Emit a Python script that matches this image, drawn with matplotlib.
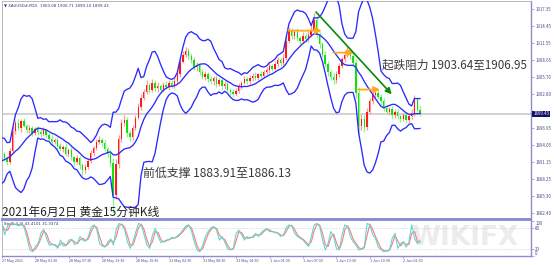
import numpy as np
import pandas as pd
import matplotlib
matplotlib.use('Agg')
import matplotlib.pyplot as plt
from matplotlib import transforms

plt.rcParams['font.family'] = ['Noto Sans CJK SC', 'DejaVu Sans']

# ---------------- data (30-minute candles, bar 0 = 27 May 19:30) ----------------
history_closes = [1888.6, 1889.8, 1888.8, 1890.4, 1891.6, 1893.0, 1893.4, 1892.4, 1891.2, 1890.6]
first_open = 1892.0
closes = [
    1892.6, 1891.8, 1891.2, 1893.0, 1896.5, 1897.8, 1897.0, 1898.2, 1897.4, 1896.6,
    1897.0, 1896.2, 1896.8, 1896.4, 1896.0, 1896.6, 1895.8, 1895.2, 1894.6, 1895.0,
    1894.0, 1893.4, 1893.8, 1892.6, 1893.2, 1892.0, 1891.2, 1891.8, 1890.6, 1889.8,
    1890.4, 1891.4, 1892.8, 1893.6, 1894.6, 1895.0, 1894.4, 1893.4, 1892.6, 1891.0,
    1885.6, 1890.8, 1895.2, 1897.8, 1898.4, 1896.2, 1895.4, 1897.0, 1898.8, 1900.6,
    1902.2, 1903.2, 1904.4, 1903.6, 1904.8, 1903.8, 1904.2, 1903.6, 1904.4, 1904.0,
    1904.8, 1904.2, 1905.0, 1906.2, 1908.4, 1909.6, 1910.2, 1909.4, 1908.6, 1907.4,
    1907.8, 1906.6, 1905.8, 1906.2, 1905.4, 1905.0, 1905.6, 1904.6, 1905.2, 1904.2,
    1904.6, 1903.6, 1903.2, 1902.8, 1903.4, 1904.2, 1904.8, 1905.4, 1905.0, 1905.6,
    1906.0, 1905.6, 1906.2, 1906.0, 1906.6, 1907.0, 1907.6, 1907.2, 1908.0, 1908.6,
    1908.2, 1909.0, 1912.0, 1913.6, 1912.8, 1913.4, 1912.4, 1912.0, 1912.8, 1912.2,
    1913.0, 1913.8, 1915.6, 1913.0, 1911.4, 1909.6, 1908.0, 1906.6, 1905.8, 1905.2,
    1906.2, 1907.6, 1908.8, 1909.6, 1910.2, 1909.4, 1908.2, 1903.0, 1897.4, 1898.6,
    1897.2, 1899.8, 1901.6, 1902.6, 1903.0, 1902.4, 1901.6, 1900.4, 1899.8, 1900.2,
    1899.2, 1899.8, 1899.0, 1898.6, 1899.2, 1898.4, 1899.0, 1899.6, 1901.8, 1900.08,
    1899.43]
upper_wicks = [
    0.4, 0.3, 0.5, 0.6, 0.8, 0.5, 0.7, 0.4, 0.6, 0.3,
    0.5, 0.4, 0.3, 0.6, 0.4, 0.5, 0.3, 0.4, 0.6, 0.3,
    0.5, 0.4, 0.3, 0.6, 0.4, 0.5, 0.3, 0.6, 0.4, 0.5,
    0.4, 0.3, 0.5, 0.4, 0.6, 0.7, 0.3, 0.5, 0.4, 0.6,
    0.8, 0.9, 0.6, 0.7, 0.9, 0.5, 0.4, 0.6, 0.5, 0.7,
    0.6, 0.5, 0.8, 0.4, 0.6, 0.5, 0.7, 0.4, 0.5, 0.6,
    0.4, 0.5, 0.6, 0.7, 0.8, 0.6, 0.7, 0.5, 0.4, 0.6,
    0.5, 0.4, 0.6, 0.5, 0.4, 0.6, 0.3, 0.5, 0.4, 0.6,
    0.4, 0.5, 0.3, 0.5, 0.4, 0.6, 0.3, 0.5, 0.4, 0.5,
    0.4, 0.6, 0.3, 0.5, 0.4, 0.5, 0.6, 0.4, 0.5, 0.6,
    0.4, 0.7, 1.0, 0.8, 0.6, 0.5, 0.7, 0.4, 0.6, 0.5,
    0.6, 0.7, 1.2, 0.6, 0.5, 0.4, 0.6, 0.5, 0.4, 0.6,
    0.5, 0.6, 0.4, 0.7, 0.8, 0.5, 0.6, 0.7, 1.0, 0.8,
    0.6, 0.7, 0.5, 0.8, 0.6, 0.5, 0.4, 0.6, 0.5, 0.4,
    0.5, 0.4, 0.5, 0.3, 0.4, 0.5, 0.3, 0.6, 0.9, 0.5,
    0.63]
lower_wicks = [
    0.3, 0.5, 0.6, 0.4, 0.3, 0.5, 0.4, 0.6, 0.3, 0.5,
    0.4, 0.6, 0.3, 0.5, 0.6, 0.4, 0.5, 0.3, 0.5, 0.4,
    0.6, 0.4, 0.5, 0.3, 0.6, 0.5, 0.7, 0.4, 0.6, 0.8,
    0.5, 0.4, 0.3, 0.5, 0.4, 0.3, 0.5, 0.4, 0.6, 0.7,
    3.2, 0.8, 0.6, 0.5, 0.4, 0.7, 0.6, 0.5, 0.4, 0.3,
    0.5, 0.4, 0.3, 0.6, 0.4, 0.5, 0.6, 0.4, 0.5, 0.3,
    0.5, 0.4, 0.3, 0.5, 0.4, 0.3, 0.5, 0.6, 0.4, 0.5,
    0.6, 0.5, 0.4, 0.6, 0.5, 0.4, 0.6, 0.5, 0.4, 0.6,
    0.5, 0.4, 0.6, 0.5, 0.3, 0.4, 0.5, 0.3, 0.5, 0.4,
    0.5, 0.3, 0.4, 0.5, 0.3, 0.4, 0.5, 0.4, 0.3, 0.5,
    0.5, 0.4, 0.3, 0.4, 0.6, 0.5, 0.4, 0.6, 0.5, 0.4,
    0.5, 0.4, 0.5, 0.6, 0.7, 0.5, 0.6, 0.7, 0.5, 0.6,
    0.4, 0.5, 0.3, 0.4, 0.5, 0.6, 0.5, 0.8, 1.6, 0.7,
    0.8, 0.5, 0.4, 0.5, 0.4, 0.5, 0.6, 0.5, 0.4, 0.5,
    0.6, 0.4, 0.5, 0.6, 0.4, 0.5, 0.6, 0.4, 0.5, 0.4,
    0.33]
stoch_k = [
    88, 60, 85, 92, 88, 90, 85, 92, 80, 50,
    17, 12, 27, 36, 65, 75, 50, 30, 34, 30,
    22, 45, 28, 30, 45, 47, 33, 36, 55, 45,
    42, 55, 82, 88, 75, 35, 28, 25, 40, 48,
    31, 78, 92, 88, 75, 40, 22, 40, 68, 92,
    88, 60, 31, 22, 60, 78, 55, 38, 41, 45,
    47, 53, 50, 58, 64, 75, 85, 88, 70, 40,
    17, 12, 30, 55, 70, 80, 83, 73, 45, 55,
    38, 20, 17, 22, 64, 73, 59, 45, 55, 50,
    55, 64, 55, 66, 73, 78, 69, 69, 66, 64,
    55, 60, 80, 88, 85, 64, 55, 50, 45, 35,
    27, 55, 88, 92, 83, 45, 17, 36, 69, 55,
    20, 17, 60, 88, 83, 55, 40, 31, 17, 20,
    27, 92, 88, 60, 50, 25, 18, 12, 15, 17,
    50, 64, 22, 35, 41, 25, 40, 88, 50, 35,
    43.41]
price_ticks = [1917.35, 1914.45, 1911.55, 1908.65, 1905.70, 1902.80, 1899.90,
               1896.95, 1894.05, 1891.15, 1888.25, 1885.30, 1882.40]
time_labels = ['27 May 2021', '28 May 01:30', '28 May 07:30', '28 May 13:30',
               '28 May 19:30', '31 May 02:30', '31 May 08:30', '31 May 14:30',
               '1 Jun 01:30', '1 Jun 07:30', '1 Jun 13:30', '1 Jun 19:30', '2 Jun 02:30']
bars_per_label = 12
last_price = 1899.43
bb_period = 10
bb_dev = 2.8
stoch_signal_period = 2

# ---------------- derived ----------------
closes_a = np.array(closes)
opens_a = np.array([first_open] + closes[:-1])
highs_a = np.maximum(opens_a, closes_a) + np.array(upper_wicks)
lows_a = np.minimum(opens_a, closes_a) - np.array(lower_wicks)
idx = np.arange(len(closes))

s = pd.Series(history_closes + closes)
mid = s.rolling(bb_period).mean().values[len(history_closes):]
sd = s.rolling(bb_period).std(ddof=0).values[len(history_closes):]
upper = mid + bb_dev * sd
lower = mid - bb_dev * sd

k = pd.Series(stoch_k)
d = k.rolling(stoch_signal_period, min_periods=1).mean().values

# ---------------- figure ----------------
W, H = 554, 265
fig = plt.figure(figsize=(W / 100, H / 100), dpi=100)
fig.patch.set_facecolor('white')

px_per_bar = 2.79
x0_px = 1.5
left_px, right_px = 2, 531
def px2bar(px):
    return (px - x0_px) / px_per_bar

ax = fig.add_axes([left_px / W, (H - 219) / H, (right_px - left_px) / W, 218 / H])
axs = fig.add_axes([left_px / W, (H - 256) / H, (right_px - left_px) / W, 36 / H])

y_top = 1917.35 + (9.3 - 1) / 5.84
y_bot = 1882.40 - (219 - 213.3) / 5.84
ax.set_ylim(y_bot, y_top)
ax.set_xlim(px2bar(left_px), px2bar(right_px))
axs.set_xlim(px2bar(left_px), px2bar(right_px))
axs.set_ylim(0.3, 101.7)

frame_c = '#8c8cd0'
for a in (ax, axs):
    for sp in a.spines.values():
        sp.set_color('#b8b8b8')
        sp.set_linewidth(0.7)
    a.spines['right'].set_color(frame_c)
    a.spines['right'].set_linewidth(1.0)
ax.spines['bottom'].set_color(frame_c)
ax.spines['bottom'].set_linewidth(1.4)
axs.spines['top'].set_color(frame_c)
axs.spines['top'].set_linewidth(1.4)
axs.spines['bottom'].set_color(frame_c)
axs.spines['bottom'].set_linewidth(1.0)

# current price line
ax.axhline(last_price, color='#cfcfcf', lw=1.3, zorder=1)

# candles
up = closes_a >= opens_a
wick_cols = np.where(up, '#ff9a9a', '#8cf08c')
body_cols = np.where(up, '#ff1a1a', '#10e010')
ax.vlines(idx, lows_a, highs_a, colors=wick_cols, lw=0.9, zorder=2)
body_h = np.maximum(np.abs(closes_a - opens_a), 0.15)
ax.bar(idx, body_h, bottom=np.minimum(opens_a, closes_a), width=0.5,
       color=body_cols, edgecolor='none', zorder=3)

# bollinger bands
band_c = '#2a2aff'
for series in (upper, mid, lower):
    ax.plot(idx, series, color=band_c, lw=0.95, zorder=4)

# annotations
orange = '#ffa81a'
arrow_specs = [((288.3, 30.7), (321.7, 30.7)),
               ((333.3, 52.7), (354.0, 52.7)),
               ((358.3, 89.6), (380.0, 89.6))]
def py2price(py):
    return 1917.35 - (py - 9.3) / 5.84
for (xa, ya), (xb, yb) in arrow_specs:
    ax.annotate('', xy=(px2bar(xb), py2price(yb)), xytext=(px2bar(xa), py2price(ya)),
                arrowprops=dict(arrowstyle='-|>,head_length=0.35,head_width=0.18',
                                color=orange, lw=1.3, shrinkA=0, shrinkB=0), zorder=6)
ax.annotate('', xy=(px2bar(391.7), py2price(94.3)), xytext=(px2bar(316), py2price(12)),
            arrowprops=dict(arrowstyle='-|>,head_length=0.35,head_width=0.18',
                            color='#0a8a0a', lw=1.2, shrinkA=0, shrinkB=0), zorder=6)

ax.text(px2bar(381.5), py2price(65), '起跌阻力 1903.64至1906.95', fontsize=8.4,
        color='#3a3a3a', va='center', ha='left', zorder=7)
ax.text(px2bar(143), py2price(173.5), '前低支撑 1883.91至1886.13', fontsize=8.6,
        color='#3a3a3a', va='center', ha='left', zorder=7)
ax.text(px2bar(2), py2price(212), '2021年6月2日 黄金15分钟K线', fontsize=8.5,
        color='#222222', va='center', ha='left', zorder=7)
ax.text(px2bar(4), py2price(5.5), '▼ XAUUSD#,M15  1900.08 1900.71 1899.10 1899.43',
        fontsize=2.8, color='#303070', va='center', ha='left', zorder=7,
        family=['DejaVu Sans'])

# price axis (the tick hidden under the current-price box is left unlabeled)
ax.yaxis.tick_right()
ax.set_yticks(price_ticks)
ax.set_yticklabels(['' if abs(v - last_price) < 1.0 else f'{v:.2f}' for v in price_ticks])
ax.tick_params(axis='y', labelsize=3.1, length=2, width=0.5, color=frame_c,
               labelcolor='#4a4a8a', pad=1)
ax.set_xticks([])
trans = transforms.blended_transform_factory(ax.transAxes, ax.transData)
ax.text(1.004, last_price, f'{last_price:.2f}', transform=trans, fontsize=3.1,
        color='white', va='center', ha='left', zorder=8,
        bbox=dict(facecolor='#10106a', edgecolor='none', pad=0.6), clip_on=False)

# stochastic
axs.axhline(80, color='#c0c0c0', lw=0.5, ls=(0, (1, 1.5)))
axs.axhline(20, color='#c0c0c0', lw=0.5, ls=(0, (1, 1.5)))
axs.plot(idx, d, color='#ff7b7b', lw=0.8, zorder=3)
axs.plot(idx, k, color='#5fd8d0', lw=0.8, zorder=4)
axs.text(px2bar(4), 95, 'Sto(5,3,3) 43.4101 31.3374', fontsize=2.8, color='#303070',
         va='top', ha='left', family=['DejaVu Sans'])
axs.text(px2bar(465), 50, 'WIKIFX', fontsize=19, color='#ececec', fontweight='bold',
         va='center', ha='center', zorder=1, family=['DejaVu Sans'])
axs.yaxis.tick_right()
axs.set_yticks([100, 80, 20, 0])
axs.set_yticklabels(['100', '80', '20', '0'])
axs.tick_params(axis='y', labelsize=3.1, length=2, width=0.5, color=frame_c,
                labelcolor='#4a4a8a', pad=1)
tl = axs.get_yticklabels()
tl[0].set_va('top')
tl[3].set_va('bottom')

tick_pos = [i * bars_per_label for i in range(len(time_labels))]
axs.set_xticks(tick_pos)
axs.set_xticklabels(time_labels)
axs.tick_params(axis='x', labelsize=2.7, length=1.5, width=0.5, color='#888888',
                labelcolor='#4a4a8a', pad=0.8)
for lab in axs.get_xticklabels():
    lab.set_ha('left')

fig.savefig('out.png', dpi=100)
